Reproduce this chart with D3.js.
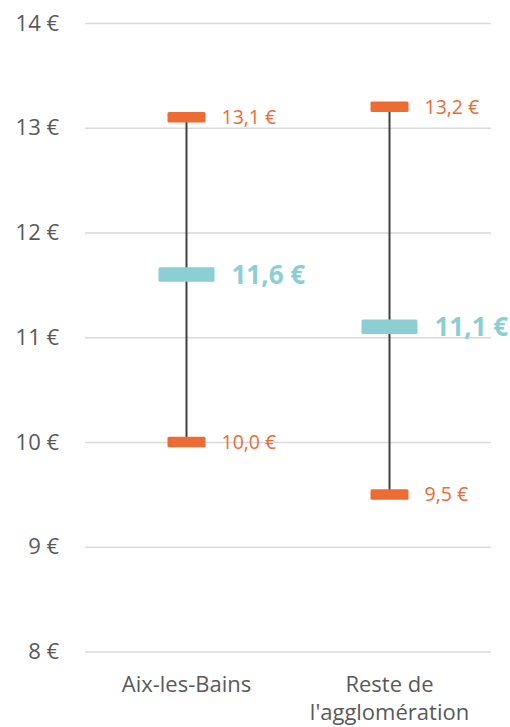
<!DOCTYPE html>
<html lang="fr">
<head>
<meta charset="utf-8">
<title>Prix médian et fourchette</title>
<script src="https://cdn.jsdelivr.net/npm/d3@7"></script>
<style>
  html, body { margin: 0; padding: 0; background: #ffffff; }
  svg { display: block; font-family: "Open Sans", sans-serif; }
</style>
</head>
<body>
<svg id="chart" width="510" height="727"></svg>
<script>
// Data
const categories = ["Aix-les-Bains", "Reste de l'agglomération"];
const highValues = [13.1, 13.2];
const medianValues = [11.6, 11.1];
const lowValues = [10.0, 9.5];
const yTicks = [8, 9, 10, 11, 12, 13, 14];

const rows = categories.map((c, i) => ({
  cat: c, high: highValues[i], median: medianValues[i], low: lowValues[i]
}));

const W = 510, H = 727;
const margin = { left: 85, right: 19, top: 23, bottom: 75.5 };

const orange = "#ED6C34";
const teal = "#8BCED3";
const textGrey = "#595959";

const svg = d3.select("#chart");

const x = d3.scaleBand()
  .domain(categories)
  .range([margin.left, W - margin.right]);

const y = d3.scaleLinear()
  .domain([8, 14])
  .range([H - margin.bottom, margin.top]);

const euro = v => d3.format(".1f")(v).replace(".", ",") + " €";

// Gridlines and value axis
const yAxis = svg.append("g")
  .attr("transform", `translate(${margin.left},0)`)
  .call(d3.axisLeft(y)
    .tickValues(yTicks)
    .tickSize(-(W - margin.left - margin.right))
    .tickPadding(26)
    .tickFormat(d => d + " €"));
yAxis.select(".domain").remove();
yAxis.selectAll(".tick line").attr("stroke", "#D9D9D9").attr("stroke-width", 1.5);
yAxis.selectAll(".tick text")
  .attr("fill", textGrey)
  .style("font-size", "22px")
  .style("font-family", "'Open Sans', sans-serif");

// Category labels, wrapped to the band width
const xAxis = svg.append("g");
xAxis.selectAll("text")
  .data(categories)
  .join("text")
  .attr("x", d => x(d) + x.bandwidth() / 2)
  .attr("y", 692)
  .attr("text-anchor", "middle")
  .attr("fill", textGrey)
  .style("font-size", "22px")
  .each(function (d) {
    const t = d3.select(this);
    const words = d.split(" ");
    let line = [];
    let tspan = t.append("tspan").attr("x", x(d) + x.bandwidth() / 2).attr("dy", 0);
    words.forEach(w => {
      line.push(w);
      tspan.text(line.join(" "));
      if (tspan.node().getComputedTextLength() > x.bandwidth() - 10 && line.length > 1) {
        line.pop();
        tspan.text(line.join(" "));
        line = [w];
        tspan = t.append("tspan")
          .attr("x", x(d) + x.bandwidth() / 2)
          .attr("dy", "28px")
          .text(w);
      }
    });
  });

const cx = d => x(d.cat) + x.bandwidth() / 2;

// Range lines from low to high
svg.append("g").selectAll("line")
  .data(rows)
  .join("line")
  .attr("x1", cx).attr("x2", cx)
  .attr("y1", d => y(d.high))
  .attr("y2", d => y(d.low))
  .attr("stroke", "#404040")
  .attr("stroke-width", 2);

// High and low markers
const extremes = rows.flatMap(d => [
  { cat: d.cat, v: d.high },
  { cat: d.cat, v: d.low }
]);
const markW = 38, markH = 10.5;
svg.append("g").selectAll("rect")
  .data(extremes)
  .join("rect")
  .attr("x", d => cx(d) - markW / 2)
  .attr("y", d => y(d.v) - markH / 2)
  .attr("width", markW)
  .attr("height", markH)
  .attr("rx", 1.5)
  .attr("fill", orange);

svg.append("g").selectAll("text")
  .data(extremes)
  .join("text")
  .attr("x", d => cx(d) + 35)
  .attr("y", d => y(d.v))
  .attr("dy", "0.36em")
  .attr("fill", orange)
  .style("font-size", "19.5px")
  .text(d => euro(d.v));

// Median markers
const medW = 56, medH = 14.5;
svg.append("g").selectAll("rect")
  .data(rows)
  .join("rect")
  .attr("x", d => cx(d) - medW / 2)
  .attr("y", d => y(d.median) - medH / 2)
  .attr("width", medW)
  .attr("height", medH)
  .attr("rx", 1.5)
  .attr("fill", teal);

svg.append("g").selectAll("text")
  .data(rows)
  .join("text")
  .attr("x", d => cx(d) + 45)
  .attr("y", d => y(d.median))
  .attr("dy", "0.36em")
  .attr("fill", teal)
  .style("font-size", "26px")
  .style("font-weight", "bold")
  .text(d => euro(d.median));
</script>
</body>
</html>
